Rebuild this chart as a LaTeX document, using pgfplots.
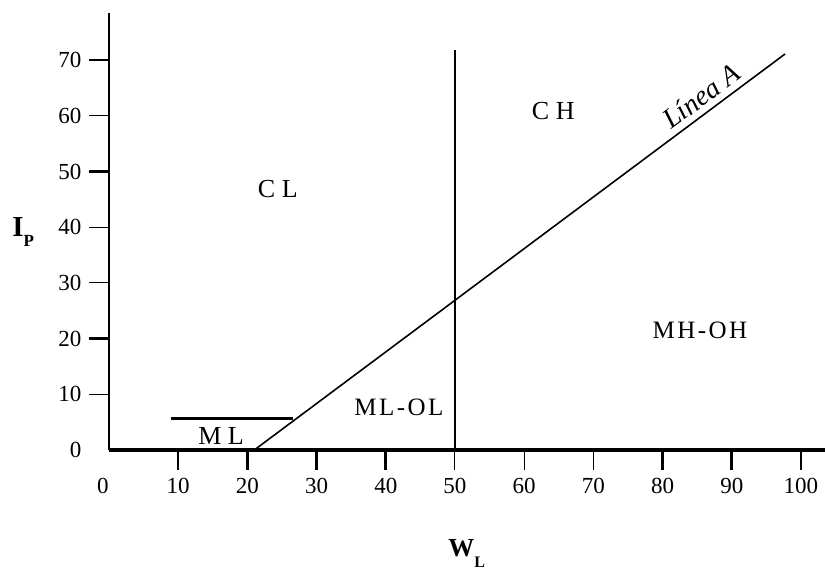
\documentclass[border=0pt]{standalone}
\usepackage{pgfplots}
\pgfplotsset{compat=1.18}
\usepackage{fontspec}
\setmainfont{Liberation Serif}

% carta de plasticidad
\newcommand{\lbl}{\fontsize{25}{25}\selectfont\addfontfeature{LetterSpace=10}}
\newcommand{\tck}{\fontsize{23}{23}\selectfont}

\begin{document}
\begin{tikzpicture}
\path[use as bounding box] (-109pt,-120pt) rectangle (716pt,450pt);

\pgfplotsset{base/.style={
  width=716.2pt, height=436.7pt, scale only axis,
  anchor=origin, at={(0,0)},
  xmin=0, xmax=103.5, ymin=0, ymax=78.4,
  axis x line*=bottom, axis y line*=left, clip=false,
  xtick pos=bottom, ytick pos=left,
  tick align=outside,
  major tick length=20pt,
  /pgf/number format/assume math mode=true,
  ticklabel style={font=\tck},
}}

\begin{axis}[base,
  x axis line style={-, line width=3pt},
  y axis line style={-, line width=1.8pt},
  xtick={10,20,30,40,80,90,100},
  extra x ticks={50,60,70},
  ytick={20,50,70},
  extra y ticks={10,30,40,60},
  major tick style={line width=2.6pt, black},
  extra x tick style={major tick style={line width=1pt, black}},
  extra y tick style={major tick style={line width=1pt, black}},
  xticklabel style={yshift=-5pt},
  yticklabel style={xshift=-4pt},
  xlabel={\fontsize{26}{26}\selectfont\bfseries W\raisebox{-0.4em}{\fontsize{16}{16}\selectfont L}},
  xlabel style={at={(axis cs:51.7,-18.6)}, anchor=center},
  ylabel={\fontsize{29}{29}\selectfont\bfseries I\raisebox{-0.35em}{\fontsize{17}{17}\selectfont P}},
  ylabel style={at={(axis cs:-12.4,39.1)}, anchor=center, rotate=-90},
]
% Linea A
\addplot[black, line width=1.6pt] coordinates {(21,0) (97.7,71.1)}
  node[pos=0.86, sloped, above, inner sep=6pt, font=\fontsize{28}{28}\selectfont\itshape] {Línea A};
% w_L = 50
\addplot[black, line width=1.1pt] coordinates {(50,0) (50,71.8)};
% limite ML
\addplot[black, line width=2.8pt] coordinates {(8.9,5.6) (26.6,5.6)};

\node[font=\fontsize{26}{26}\selectfont] at (axis cs:24.4,46.9) {C L};
\node[font=\fontsize{26}{26}\selectfont] at (axis cs:64.2,60.9) {C H};
\node[font=\lbl] at (axis cs:85.4,21.5) {MH-OH};
\node[font=\lbl] at (axis cs:41.9,7.7) {ML-OL};
\node[font=\fontsize{26}{26}\selectfont] at (axis cs:16.2,2.5) {M L};
\end{axis}

% etiquetas del origen
\begin{axis}[base,
  axis line style={draw=none},
  xtick={0}, ytick={0}, major tick length=0pt,
  xticklabel style={yshift=-25pt, xshift=-6pt},
  yticklabel style={xshift=-24pt},
]
\addplot[draw=none] coordinates {(0,0)};
\end{axis}
\end{tikzpicture}
\end{document}
